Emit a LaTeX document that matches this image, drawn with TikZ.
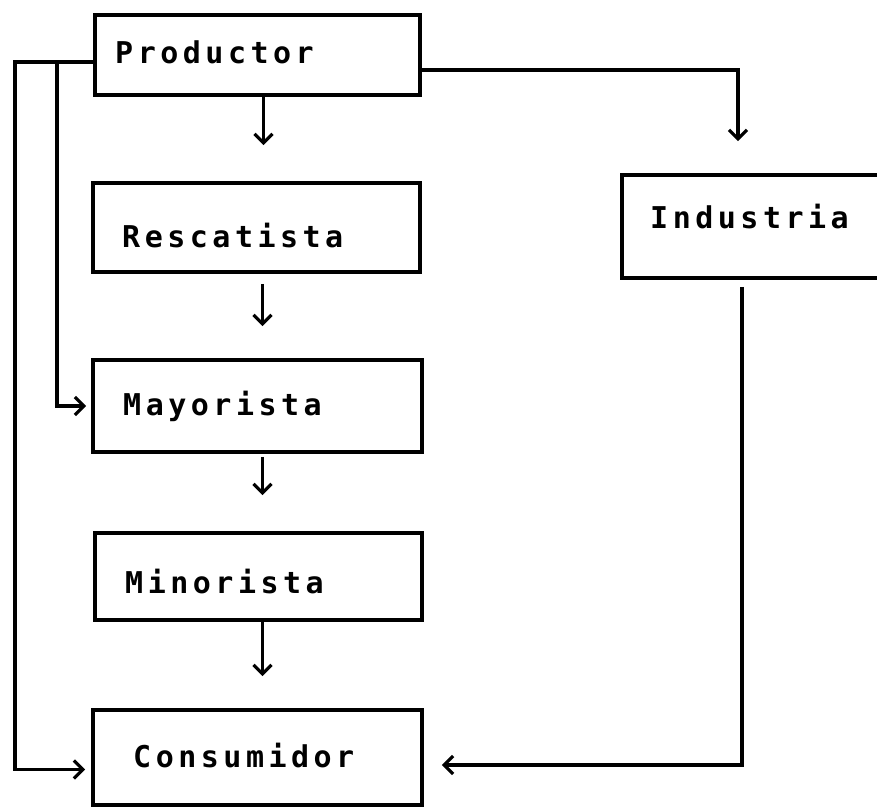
\documentclass[tikz,border=0pt]{standalone}
\usepackage{fontspec}
\newfontfamily\boxfont[LetterSpace=15]{DejaVu Sans Mono}
\usetikzlibrary{arrows.meta}
\begin{document}
\begin{tikzpicture}[x=1pt,y=-1pt,
  box/.style={draw, line width=3.8pt, inner sep=0pt},
  lbl/.style={anchor=base west, inner sep=0pt, font=\boxfont\bfseries\fontsize{30}{34}\selectfont},
  conn/.style={line width=3.2pt, -{Straight Barb[length=9pt,width=18pt]}}]
\useasboundingbox (0,0) rectangle (877,809);
% boxes
\node[box, minimum width=325pt, minimum height=80pt] (prod) at (257.5,55) {};
\node[box, minimum width=327pt, minimum height=89pt] (resc) at (256.5,227.5) {};
\node[box, minimum width=329pt, minimum height=92pt] (mayo) at (257.5,406) {};
\node[box, minimum width=327pt, minimum height=87pt] (mino) at (258.5,576.5) {};
\node[box, minimum width=329pt, minimum height=95pt] (cons) at (257.5,757.5) {};
\node[box, minimum width=268pt, minimum height=103pt] (indu) at (756,226.5) {};
% labels
\node[lbl] (tprod) at (115,63) {Productor};
\node[lbl] (tresc) at (122,247) {Rescatista};
\node[lbl] (tmayo) at (123,415) {Mayorista};
\node[lbl] (tmino) at (125,593) {Minorista};
\node[lbl] (tcons) at (133,767) {Consumidor};
\node[lbl] (tindu) at (650,228) {Industria};
% vertical chain
\draw[conn, shorten >=36pt] ([xshift=6pt]prod.south) -- ([xshift=6pt]prod.south |- resc.north);
\draw[conn, shorten <=10pt, shorten >=32pt] ([xshift=6pt]resc.south) -- ([xshift=6pt]resc.south |- mayo.north);
\draw[conn, shorten <=3pt, shorten >=36pt] ([xshift=5pt]mayo.south) -- ([xshift=5pt]mayo.south |- mino.north);
\draw[conn, shorten >=32pt] ([xshift=4pt]mino.south) -- ([xshift=4pt]mino.south |- cons.north);
% productor to industria
\draw[conn, shorten >=32pt] ([yshift=-15pt]prod.east) -| ([xshift=-18pt]indu.north);
% industria to consumidor
\draw[conn, shorten <=7pt, shorten >=18pt] ([xshift=-14pt]indu.south) |- ([yshift=-7.5pt]cons.east);
% left side bypasses
\coordinate (L1) at (15,62);
\coordinate (L2) at (57,62);
\draw[conn, shorten >=6pt] ([yshift=-7pt]prod.west) -- (L1) |- ([yshift=-12pt]cons.west);
\draw[conn, shorten >=5pt] (L2) |- (mayo.west);
\end{tikzpicture}
\end{document}
